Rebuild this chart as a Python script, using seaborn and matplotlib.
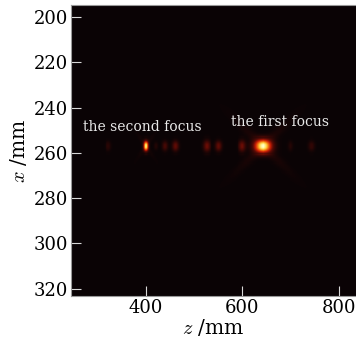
import numpy as np
import pandas as pd
import matplotlib
matplotlib.use('Agg')
import matplotlib.pyplot as plt
from matplotlib.colors import LinearSegmentedColormap
import seaborn as sns

# Grid of the intensity map (z along columns, x along rows)
z_grid = np.arange(245, 836, 2.0)
x_grid = np.arange(195, 323.5, 0.5)

# Focal spots and side lobes: centre z, centre x, peak, width z, width x
spot_z = [400, 643, 322, 420, 440, 461, 526, 551, 600, 700, 743]
spot_x = [257, 257, 257, 257, 257, 257, 257, 257, 257, 257, 257]
spot_peak = [0.84, 0.9, 0.08, 0.06, 0.15, 0.21, 0.23, 0.21, 0.23, 0.07, 0.1]
spot_wz = [3.2, 12.0, 4.0, 3.0, 4.0, 4.5, 5.0, 4.5, 5.0, 4.0, 4.5]
spot_wx = [1.5, 2.0, 1.5, 1.2, 1.5, 1.6, 1.8, 1.6, 1.8, 1.5, 1.6]

# Faint X-shaped halo around the foci: centre, peak, length, width, slope (mm x per mm z)
halo_z = [643, 643, 400, 400]
halo_x = [257, 257, 257, 257]
halo_peak = [0.05, 0.05, 0.03, 0.03]
halo_len = [40, 40, 12, 12]
halo_wid = [2.0, 2.0, 1.2, 1.2]
halo_slope = [0.2, -0.2, 0.3, -0.3]

Z, X = np.meshgrid(z_grid, x_grid)
field = np.zeros_like(Z)
for zc, xc, a, wz, wx in zip(spot_z, spot_x, spot_peak, spot_wz, spot_wx):
    field += a * np.exp(-((Z - zc) / wz) ** 2 / 2 - ((X - xc) / wx) ** 2 / 2)
for zc, xc, a, ln, wd, s in zip(halo_z, halo_x, halo_peak, halo_len, halo_wid, halo_slope):
    d = (X - xc) - s * (Z - zc)
    field += a * np.exp(-((Z - zc) / ln) ** 2 / 2 - (d / wd) ** 2 / 2)

df = pd.DataFrame(field, index=x_grid, columns=z_grid)

z_ticks = [400, 600, 800]
x_ticks = [200, 220, 240, 260, 280, 300, 320]
labels = [('the second focus', 392, 248.5), ('the first focus', 679, 246.5)]

# near-black background going into a "hot" ramp
cmap = LinearSegmentedColormap.from_list(
    'hotdark', ['#0a0305', '#5a0a05', '#c81e05', '#f07010', '#ffd040', '#ffffc0'])

plt.rcParams['font.family'] = ['DejaVu Serif']
plt.rcParams['mathtext.fontset'] = 'cm'

fig = plt.figure(figsize=(3.56, 3.41), dpi=100)
ax = fig.add_axes([0.199, 0.132, 0.801, 0.853])
sns.heatmap(df, ax=ax, cmap=cmap, vmin=0, vmax=1, cbar=False,
            xticklabels=False, yticklabels=False, rasterized=True)

col_pos = np.arange(len(z_grid)) + 0.5
row_pos = np.arange(len(x_grid)) + 0.5
ax.set_xticks(np.interp(z_ticks, z_grid, col_pos))
ax.set_xticklabels([str(t) for t in z_ticks])
ax.set_yticks(np.interp(x_ticks, x_grid, row_pos))
ax.set_yticklabels([str(t) for t in x_ticks], rotation=0)
ax.tick_params(direction='in', length=7, width=0.8, color='#d8d8d8',
               labelsize=13, pad=2)

for txt, zc, xc in labels:
    ax.text(np.interp(zc, z_grid, col_pos), np.interp(xc, x_grid, row_pos), txt,
            color='#e8e8e8', fontsize=10, ha='center', va='center')

ax.set_xlabel('$z$ /mm', fontsize=14.5, labelpad=0)
ax.set_ylabel('$x$ /mm', fontsize=14.5, labelpad=3)
for side in ['left', 'bottom', 'top']:
    ax.spines[side].set_visible(True)
    ax.spines[side].set_color('#999999')
    ax.spines[side].set_linewidth(0.8)

fig.savefig('out.png', dpi=100)
